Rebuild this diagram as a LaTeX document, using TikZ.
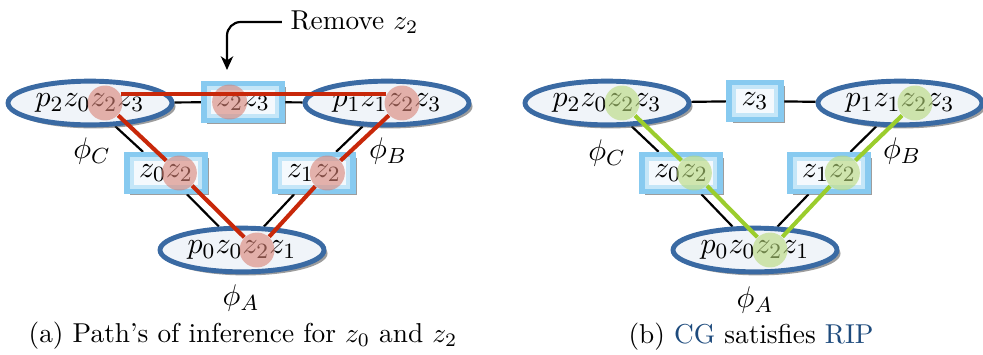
\documentclass[tikz,border=0pt]{standalone}
\usetikzlibrary{shapes.geometric,shadows,backgrounds,calc,arrows.meta}
\definecolor{ellblue}{RGB}{58,106,163}
\definecolor{ellglow}{RGB}{150,182,218}
\definecolor{ellin}{RGB}{240,244,249}
\definecolor{boxblue}{RGB}{135,202,240}
\definecolor{boxglow}{RGB}{196,230,248}
\definecolor{boxin}{RGB}{244,249,253}
\definecolor{pathred}{RGB}{200,40,10}
\definecolor{circred}{RGB}{217,130,117}
\definecolor{pathgreen}{RGB}{155,205,45}
\definecolor{circgreen}{RGB}{183,217,122}
\definecolor{capblue}{RGB}{30,75,125}
\pgfdeclareradialshading{ellglowshade}{\pgfpoint{0bp}{0bp}}{color(0bp)=(ellin); color(30bp)=(ellin); color(44bp)=(ellglow); color(50bp)=(ellglow)}
\newcommand\nodefont{\fontsize{10.95}{13}\selectfont}
\newcommand\capfont{\fontsize{10}{12}\selectfont}
\tikzset{
  cluster/.style={ellipse, minimum width=60pt, minimum height=16pt, inner sep=0pt,
    draw=ellblue, line width=1.8pt, shading=ellglowshade,
    drop shadow={shadow xshift=1.3pt, shadow yshift=-1.3pt, opacity=0.55, fill=black!70},
    font=\nodefont},
  sepbox/.style={rectangle, minimum height=13.5pt, inner xsep=4.5pt, inner ysep=0pt,
    draw=boxblue, line width=2pt, fill=boxin,
    path picture={\draw[boxglow, line width=5pt] (path picture bounding box.south west) rectangle (path picture bounding box.north east);},
    drop shadow={shadow xshift=1.3pt, shadow yshift=-1.3pt, opacity=0.55, fill=black!70},
    font=\nodefont},
  hlred/.style={circle, minimum size=12.8pt, inner sep=0pt, fill=circred, fill opacity=0.6},
  hlgreen/.style={circle, minimum size=12.8pt, inner sep=0pt, fill=circgreen, fill opacity=0.6},
  redpath/.style={pathred, line width=1.5pt},
  greenpath/.style={pathgreen, line width=1.5pt},
  edgeline/.style={black, line width=0.8pt},
  lbl/.style={font=\nodefont, inner sep=0pt},
  captext/.style={font=\capfont, inner sep=0pt}
}
\begin{document}
\begin{tikzpicture}[x=0.366pt, y=-0.366pt]
\useasboundingbox (0,0) rectangle (983,354);
% ---------- (a) ----------
\node[cluster] (C) at (90,103) {$p_2z_0z_2z_3$};
\node[cluster] (B) at (387,103) {$p_1z_1z_2z_3$};
\node[cluster] (A) at (242,250) {$p_0z_0z_2z_1$};
\node[sepbox] (S) at (243,102) {$z_2z_3$};
\node[sepbox] (S0) at (166,173) {$z_0z_2$};
\node[sepbox] (S1) at (314,173) {$z_1z_2$};
\node[lbl] (phC) at (92,151) {$\phi_C$};
\node[lbl] (phB) at (388,151) {$\phi_B$};
\node[lbl] (phA) at (241,298) {$\phi_A$};
\begin{scope}[on background layer]
\draw[edgeline] (C) -- (S);
\draw[edgeline] (S) -- (B);
\draw[edgeline] (C) -- (S0);
\draw[edgeline] (S0) -- (A);
\draw[edgeline] (A) -- (S1);
\draw[edgeline] (S1) -- (B);
\end{scope}
\node[hlred] (hC) at ($(C)+(5.5pt,0)$) {};
\node[hlred] (hB) at ($(B)+(5.5pt,0)$) {};
\node[hlred] (hA) at ($(A)+(5.5pt,0)$) {};
\node[hlred] (hS) at ($(S)+(-4.9pt,0)$) {};
\node[hlred] (hS0) at ($(S0)+(4.9pt,0)$) {};
\node[hlred] (hS1) at ($(S1)+(4.9pt,0)$) {};
\draw[redpath] (hC.30) -- (hB.150);
\draw[redpath] (hC) -- (hS0);
\draw[redpath] (hS0) -- (hA);
\draw[redpath] (hA) -- (hS1);
\draw[redpath] (hS1) -- (hB);
\node[captext, anchor=west] (rm) at (290,22) {Remove $z_2$};
\coordinate (rmtip) at (227,70);
\draw[line width=0.8pt, rounded corners=5pt, -{Stealth[length=5pt,width=4.5pt,inset=1.5pt]}] ([xshift=-3pt]rm.west) -| (rmtip);
\node[captext] (capA) at (243,336) {(a) Path's of inference for $z_0$ and $z_2$};
% ---------- (b) ----------
\node[cluster] (Cb) at (607,103) {$p_2z_0z_2z_3$};
\node[cluster] (Bb) at (900,103) {$p_1z_1z_2z_3$};
\node[cluster] (Ab) at (755,250) {$p_0z_0z_2z_1$};
\node[sepbox, minimum width=19pt] (Sb) at (755,101) {$z_3$};
\node[sepbox] (S0b) at (681,173) {$z_0z_2$};
\node[sepbox] (S1b) at (829,173) {$z_1z_2$};
\node[lbl] (phCb) at (607,153) {$\phi_C$};
\node[lbl] (phBb) at (902,151) {$\phi_B$};
\node[lbl] (phAb) at (755,300) {$\phi_A$};
\begin{scope}[on background layer]
\draw[edgeline] (Cb) -- (Sb);
\draw[edgeline] (Sb) -- (Bb);
\draw[edgeline] (Cb) -- (S0b);
\draw[edgeline] (S0b) -- (Ab);
\draw[edgeline] (Ab) -- (S1b);
\draw[edgeline] (S1b) -- (Bb);
\end{scope}
\node[hlgreen] (gC) at ($(Cb)+(5.5pt,0)$) {};
\node[hlgreen] (gB) at ($(Bb)+(5.5pt,0)$) {};
\node[hlgreen] (gA) at ($(Ab)+(5.5pt,0)$) {};
\node[hlgreen] (gS0) at ($(S0b)+(4.9pt,0)$) {};
\node[hlgreen] (gS1) at ($(S1b)+(4.9pt,0)$) {};
\draw[greenpath] (gC) -- (gS0);
\draw[greenpath] (gS0) -- (gA);
\draw[greenpath] (gA) -- (gS1);
\draw[greenpath] (gS1) -- (gB);
\node[captext] (capB) at (751,337) {(b) \textcolor{capblue}{CG} satisfies \textcolor{capblue}{RIP}};
\end{tikzpicture}
\end{document}
